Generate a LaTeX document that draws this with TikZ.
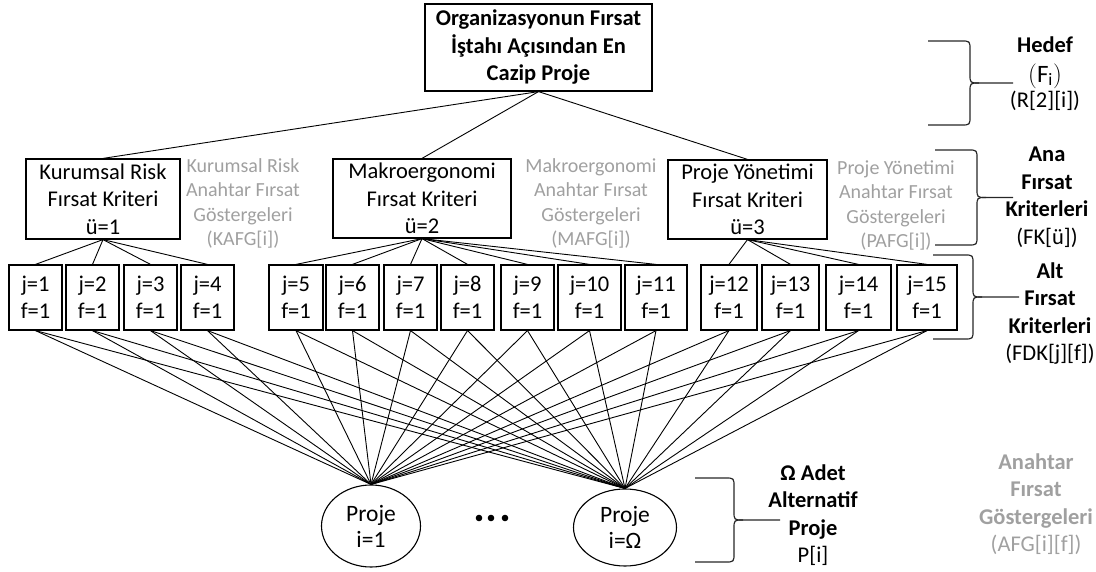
\documentclass[tikz,border=0pt]{standalone}
\usepackage{fontspec}
\setmainfont{Carlito}
\usetikzlibrary{shapes.geometric}
\definecolor{keygray}{RGB}{160,160,160}
\newcommand\mybrace[5]{% x0 xs xt yt yb
  \draw[bracestyle] (#1,#4) -- ({#2-9},#4) .. controls (#2,#4) .. (#2,{#4+9})
    -- (#2,{(#4+#5)/2-9}) .. controls (#2,{(#4+#5)/2}) .. ({#2+9},{(#4+#5)/2}) -- (#3,{(#4+#5)/2});
  \draw[bracestyle] (#1,#5) -- ({#2-9},#5) .. controls (#2,#5) .. (#2,{#5-9})
    -- (#2,{(#4+#5)/2+9}) .. controls (#2,{(#4+#5)/2}) .. ({#2+9},{(#4+#5)/2});
}
\begin{document}
\begin{tikzpicture}[x=1pt,y=-1pt,
  box/.style={draw, line width=1.2pt, rectangle, inner sep=0pt, align=center,
    font=\fontsize{22.5}{27.5}\selectfont},
  jbox/.style={box, minimum height=65pt},
  proj/.style={draw, ellipse, line width=1.1pt, inner sep=0pt, align=center,
    font=\fontsize{23.5}{26}\selectfont},
  edge/.style={line width=0.9pt},
  graytxt/.style={text=keygray, align=center, font=\fontsize{20}{24.5}\selectfont},
  lbl/.style={align=center, font=\fontsize{22.5}{27.5}\selectfont},
  bracestyle/.style={line width=1.2pt, draw=black!85, line join=round}]
\useasboundingbox (0,0) rectangle (1096,572);

% top goal
\node[box, minimum width=227pt, minimum height=87pt, font=\fontsize{22.5}{27.5}\selectfont\bfseries]
  (top) at (538.5,47.5) {Organizasyonun Fırsat\\İştahı Açısından En\\Cazip Proje};

% main criteria
\node[box, minimum width=154pt, minimum height=80pt] (K) at (103,199) {Kurumsal Risk\\Fırsat Kriteri\\ü=1};
\node[box, minimum width=178pt, minimum height=79pt] (M) at (422,198.5) {Makroergonomi\\Fırsat Kriteri\\ü=2};
\node[box, minimum width=159pt, minimum height=79pt] (P) at (747.5,199.5) {Proje Yönetimi\\Fırsat Kriteri\\ü=3};

% gray KPI labels
\node[graytxt] (kafg) at (243,203.5) {Kurumsal Risk\\Anahtar Fırsat\\Göstergeleri\\(KAFG[i])};
\node[graytxt] (mafg) at (591,203.5) {Makroergonomi\\Anahtar Fırsat\\Göstergeleri\\(MAFG[i])};
\node[graytxt] (pafg) at (896,205.5) {Proje Yönetimi\\Anahtar Fırsat\\Göstergeleri\\(PAFG[i])};

% sub criteria
\foreach \n/\cx/\w in {1/35.5/53, 2/92.5/53, 3/150.5/53, 4/207.5/53,
  5/296/54, 6/352.5/53, 7/410.5/53, 8/467.5/53, 9/527.5/53, 10/589.5/63, 11/656/62,
  12/729/56, 13/790.5/57, 14/858.5/65, 15/927/60}
  \node[jbox, minimum width=\w pt] (j\n) at (\cx,297.5) {j=\n\\f=1};

% projects
\node[proj, minimum width=99pt, minimum height=82pt] (e1) at (371,526) {Proje\\i=1};
\node[proj, minimum width=103pt, minimum height=77pt] (e2) at (625,527.5) {Proje\\i=Ω};
\fill (479,518) circle (3.3pt);
\fill (491,518) circle (3.3pt);
\fill (505,518) circle (3.3pt);

% connectors
\foreach \t in {K,M,P} \draw[edge] (top.south) -- (\t.north);
\foreach \n in {1,...,4} \draw[edge] (K.south) -- (j\n.north);
\foreach \n in {5,...,11} \draw[edge] (M.south) -- (j\n.north);
\foreach \n in {12,...,15} \draw[edge] (P.south) -- (j\n.north);
\foreach \n in {1,...,15} {
  \draw[edge] (j\n.south) -- (e1.north);
  \draw[edge] (j\n.south) -- (e2.north);
}

% braces
\mybrace{928}{970}{1013}{41}{125}
\mybrace{935}{977}{1013}{150}{245}
\mybrace{933}{973}{1019}{255}{339}
\mybrace{695}{734}{780}{478}{562}

% right labels
\node[lbl] (hedef) at (1045,45) {\textbf{Hedef}};
\node[lbl] (fi) at (1045,76) {\fontsize{25}{27.5}\selectfont$(\mathrm{F}_{\mathrm{i}})$};
\node[lbl] (r2i) at (1045,101) {(R[2][i])};
\node[lbl] (ana) at (1047,197.5) {\textbf{Ana}\\\textbf{Fırsat}\\\textbf{Kriterleri}\\(FK[ü])};
\node[lbl] (alt) at (1050,313.5) {\textbf{Alt}\\\textbf{Fırsat}\\\textbf{Kriterleri}\\(FDK[j][f])};
\node[lbl] (omega) at (813,515) {\textbf{Ω Adet}\\\textbf{Alternatif}\\\textbf{Proje}\\P[i]};
\node[lbl, text=keygray] (afg) at (1036,504) {\textbf{Anahtar}\\\textbf{Fırsat}\\\textbf{Göstergeleri}\\(AFG[i][f])};
\end{tikzpicture}
\end{document}
